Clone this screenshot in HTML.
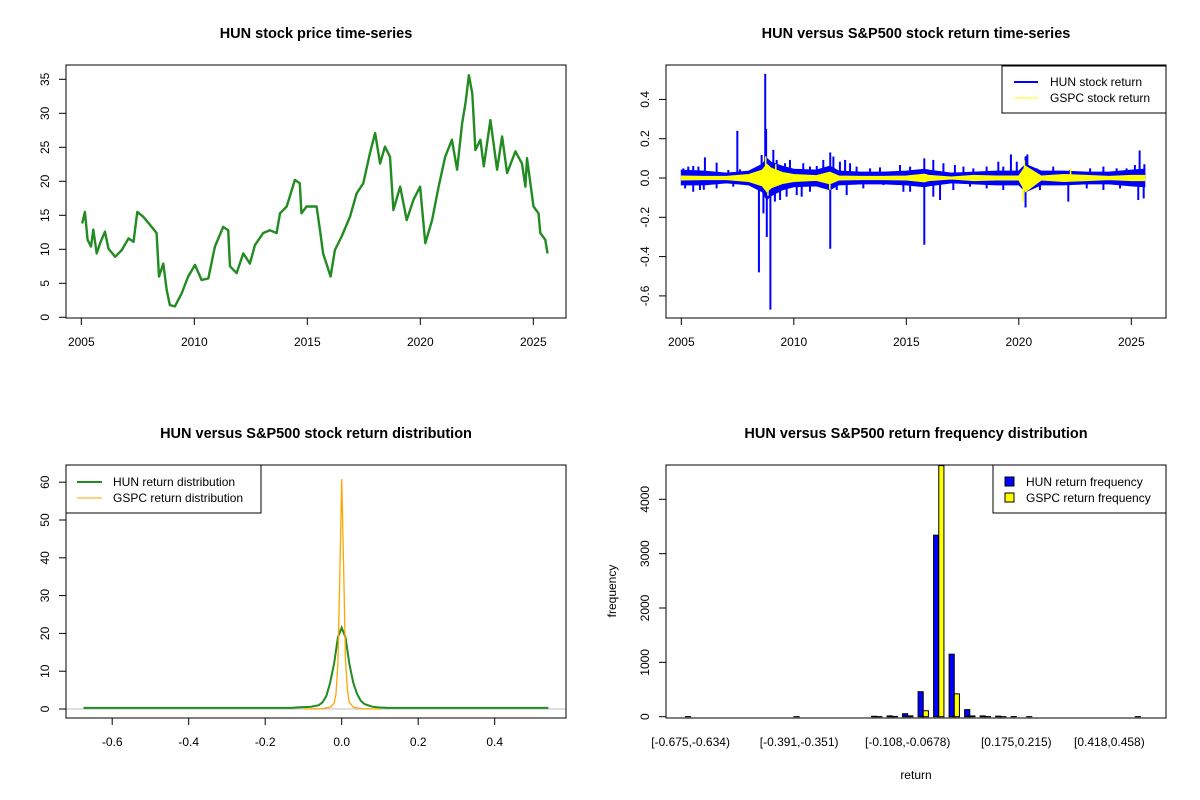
<!DOCTYPE html>
<html><head><meta charset="utf-8"><style>
html,body{margin:0;padding:0;background:#fff;}
svg{display:block;font-family:"Liberation Sans",Arial,sans-serif;}
.t{font-size:12px;fill:#000;}
.title{font-size:14.5px;font-weight:bold;fill:#000;}
</style></head><body>
<svg id="chart" width="1200" height="800" viewBox="0 0 1200 800" xmlns="http://www.w3.org/2000/svg">
<rect x="0" y="0" width="1200" height="800" fill="#fff"/>
</svg>
<script>
// ---- Panel 1: price series ----
const priceYears = [2005.04,2005.16,2005.28,2005.43,2005.53,2005.68,2005.83,2006.05,2006.2,2006.5,2006.79,2007.09,2007.31,2007.48,2007.74,2008.04,2008.33,2008.44,2008.63,2008.78,2008.92,2009.14,2009.44,2009.73,2010.03,2010.32,2010.62,2010.91,2011.28,2011.5,2011.58,2011.87,2012.17,2012.46,2012.68,2013.05,2013.35,2013.64,2013.79,2014.09,2014.45,2014.67,2014.74,2014.97,2015.41,2015.56,2015.7,2016.03,2016.22,2016.52,2016.89,2017.18,2017.48,2017.77,2018.0,2018.22,2018.44,2018.66,2018.81,2019.11,2019.4,2019.7,2019.99,2020.22,2020.52,2020.81,2021.1,2021.4,2021.63,2021.85,2022.0,2022.15,2022.3,2022.44,2022.66,2022.81,2023.1,2023.4,2023.62,2023.84,2024.21,2024.5,2024.65,2024.72,2025.01,2025.23,2025.31,2025.53,2025.63];
const priceValues = [13.8,15.5,11.4,10.4,12.9,9.4,10.9,12.6,10.1,8.9,9.9,11.6,11.1,15.5,14.8,13.6,12.4,6.0,7.9,4.0,1.8,1.6,3.5,6.0,7.7,5.5,5.7,10.4,13.3,12.8,7.5,6.5,9.4,7.9,10.6,12.4,12.8,12.4,15.3,16.3,20.2,19.7,15.3,16.3,16.3,12.8,9.4,6.0,9.9,11.9,14.8,18.2,19.7,24.1,27.1,22.6,25.1,23.6,15.8,19.2,14.3,17.3,19.2,10.9,14.3,19.2,23.6,26.1,21.7,28.5,31.5,35.6,32.9,24.6,26.1,22.2,29.0,21.7,26.6,21.2,24.4,22.6,19.2,23.4,16.3,15.3,12.4,11.4,9.4];
const priceTicksY = [0,5,10,15,20,25,30,35];
const yearTicks = [2005,2010,2015,2020,2025];

// ---- Panel 2: return series ----
const envYears = [2005,2006,2007,2008,2008.6,2008.8,2009,2009.5,2010,2011,2011.6,2012,2013,2014,2015,2015.8,2016,2017,2018,2019,2020,2020.3,2021,2022,2023,2024,2025,2025.6];
const hunHigh = [0.04,0.035,0.025,0.035,0.07,0.1,0.08,0.06,0.045,0.04,0.06,0.035,0.03,0.03,0.035,0.045,0.04,0.025,0.03,0.035,0.035,0.07,0.035,0.035,0.03,0.03,0.04,0.045];
const hunLow = [-0.035,-0.035,-0.025,-0.035,-0.07,-0.11,-0.09,-0.06,-0.045,-0.04,-0.06,-0.035,-0.03,-0.03,-0.035,-0.045,-0.04,-0.025,-0.03,-0.035,-0.035,-0.07,-0.035,-0.035,-0.03,-0.03,-0.04,-0.045];
const gspcHigh = [0.01,0.008,0.008,0.018,0.04,0.07,0.05,0.028,0.018,0.012,0.03,0.01,0.008,0.008,0.01,0.02,0.013,0.005,0.013,0.01,0.01,0.06,0.01,0.018,0.013,0.008,0.013,0.013];
const gspcLow = [-0.01,-0.008,-0.008,-0.018,-0.04,-0.07,-0.05,-0.028,-0.018,-0.012,-0.03,-0.01,-0.008,-0.008,-0.01,-0.02,-0.013,-0.005,-0.013,-0.01,-0.01,-0.07,-0.01,-0.018,-0.013,-0.008,-0.013,-0.013];
const spikeYears = [2006.0,2007.49,2008.45,2008.73,2008.77,2008.8,2008.96,2011.62,2011.62,2015.8,2015.8,2019.65,2020.3,2020.3,2025.37,
 2005.09,2005.31,2005.53,2005.76,2006.05,2006.57,2007.09,2007.61,2008.13,2008.57,2009.09,2009.24,2009.61,2009.83,2010.42,2010.72,2011.02,2011.31,2011.76,2012.05,2012.28,2012.5,2012.79,2013.39,2013.83,2014.72,2015.17,2016.2,2016.65,2017.16,2017.54,2017.98,2018.57,2019.09,2019.31,2019.91,2020.38,2020.8,2021.53,2022.28,2023.17,2023.76,2024.35,2024.79,2025.16,2025.58,
 2005.17,2005.53,2005.83,2006.57,2007.31,2007.91,2008.65,2009.16,2009.39,2009.68,2010.13,2010.35,2010.72,2011.91,2012.35,2013.09,2013.98,2014.87,2015.17,2016.2,2016.5,2017.09,2017.83,2018.57,2019.31,2020.94,2022.2,2023.02,2023.76,2024.5,2025.31,2025.55];
const spikeValues = [-0.06,0.24,-0.48,0.53,0.25,-0.30,-0.67,-0.36,0.13,-0.34,0.10,0.12,0.11,-0.15,0.14,
 0.049,0.058,0.061,0.058,0.105,0.078,0.041,0.044,0.041,0.117,0.143,0.092,0.075,0.092,0.075,0.058,0.061,0.092,0.109,0.083,0.092,0.075,0.058,0.049,0.054,0.066,0.058,0.092,0.075,0.066,0.058,0.049,0.058,0.083,0.058,0.083,0.12,0.049,0.058,0.041,0.049,0.058,0.049,0.049,0.066,0.07,
 -0.053,-0.07,-0.061,-0.053,-0.044,-0.036,-0.18,-0.12,-0.112,-0.095,-0.087,-0.095,-0.07,-0.061,-0.087,-0.053,-0.036,-0.07,-0.07,-0.095,-0.112,-0.061,-0.044,-0.053,-0.061,-0.061,-0.12,-0.053,-0.061,-0.053,-0.112,-0.104];
const gspcSpikeYears = [2008.75,2008.85,2009.2,2011.6,2020.2,2020.25,2022.3];
const gspcSpikeValues = [0.11,-0.09,0.07,-0.06,-0.12,0.09,0.05];
const retTicksY = [-0.6,-0.4,-0.2,0.0,0.2,0.4];
const retTickLabels = ["-0.6","-0.4","-0.2","0.0","0.2","0.4"];

// ---- Panel 3: density ----
const hunDensX = [-0.675,-0.13,-0.12,-0.1,-0.08,-0.06,-0.05,-0.04,-0.03,-0.02,-0.01,0,0.01,0.02,0.03,0.04,0.05,0.06,0.08,0.1,0.12,0.14,0.54];
const hunDensY = [0.3,0.3,0.4,0.5,0.6,1.0,1.8,3.5,7,12,19,21.5,19,12,7,4,2.2,1.3,0.6,0.4,0.3,0.3,0.3];
const gspcDensX = [-0.1,-0.05,-0.03,-0.02,-0.015,-0.01,-0.005,0,0.005,0.01,0.015,0.02,0.03,0.05,0.1];
const gspcDensY = [0,0.1,0.5,1.5,4,12,35,60.8,38,13,5,1.8,0.5,0.1,0];
const densTicksX = [-0.6,-0.4,-0.2,0.0,0.2,0.4];
const densTickLabels = ["-0.6","-0.4","-0.2","0.0","0.2","0.4"];
const densTicksY = [0,10,20,30,40,50,60];

// ---- Panel 4: histogram ----
const binLabels = ["[-0.675,-0.634)","","","","","","","[-0.391,-0.351)","","","","","","","[-0.108,-0.0678)","","","","","","","[0.175,0.215)","","","","","","[0.418,0.458)","",""];
const hunCounts = [1,0,0,0,0,0,0,1,0,0,0,0,8,15,55,460,3340,1150,130,15,10,3,1,0,0,0,0,0,0,1];
const gspcCounts = [0,0,0,0,0,0,0,0,0,0,0,0,2,5,15,110,4620,420,15,3,1,0,0,0,0,0,0,0,0,0];
const freqTicks = [0,1000,2000,3000,4000];

const svg = document.getElementById('chart');
const NS = 'http://www.w3.org/2000/svg';
function mk(tag, attrs, parent){
  const e = document.createElementNS(NS, tag);
  for (const k in attrs) e.setAttribute(k, attrs[k]);
  (parent||svg).appendChild(e);
  return e;
}
function txt(x,y,s,cls,rot,parent){
  const e = mk('text',{x:x,y:y,'class':cls||'t','text-anchor':'middle','dominant-baseline':'central'},parent);
  if (rot) e.setAttribute('transform','rotate(-90 '+x+' '+y+')');
  e.textContent = s;
  return e;
}
function group(name){
  const g = mk('g',{});
  
  
  return g;
}

// ===== Panel 1 =====
(function(){
  const L=66,R=566,T=65,B=318;
  const sx = y => 81.3 + (y-2005)*22.6;
  const sy = v => 317.3 - v*6.8;
  const g = group('price-panel');
  const t = txt(316,34,'HUN stock price time-series','title',false,g);
  
  
  let d='';
  priceYears.forEach((y,i)=>{ d += (i?'L':'M')+sx(y).toFixed(1)+' '+sy(priceValues[i]).toFixed(1); });
  const p = mk('path',{d:d,fill:'none',stroke:'#228B22','stroke-width':2.4,'stroke-linejoin':'round'},g);
  
  
  const box = mk('rect',{x:L,y:T,width:R-L,height:B-T,fill:'none',stroke:'#000','stroke-width':1},g);
  
  
  yearTicks.forEach(yr=>{
    mk('line',{x1:sx(yr),x2:sx(yr),y1:B,y2:B+7,stroke:'#000'},g);
    const e = txt(sx(yr),342,String(yr),'t',false,g);
    
    
  });
  priceTicksY.forEach(v=>{
    mk('line',{x1:L,x2:L-7,y1:sy(v),y2:sy(v),stroke:'#000'},g);
    const e = txt(45,sy(v),String(v),'t',true,g);
    
    
  });
})();

// ===== Panel 2 =====
(function(){
  const L=666,R=1166,T=65,B=318;
  const sx = y => 681.3 + (y-2005)*22.5;
  const sy = v => 178 - v*196.5;
  const g = group('return-panel');
  const t = txt(916,34,'HUN versus S&P500 stock return time-series','title',false,g);
  
  
  function band(hi,lo,col,name){
    let d='';
    envYears.forEach((y,i)=>{ d += (i?'L':'M')+sx(y).toFixed(1)+' '+sy(hi[i]).toFixed(1); });
    for (let i=envYears.length-1;i>=0;i--) d += 'L'+sx(envYears[i]).toFixed(1)+' '+sy(lo[i]).toFixed(1);
    const p = mk('path',{d:d+'Z',fill:col,stroke:col,'stroke-width':1},g);
    
    
  }
  band(hunHigh,hunLow,'#0000FF','hun-return-band');
  spikeYears.forEach((y,i)=>{
    const l = mk('line',{x1:sx(y),x2:sx(y),y1:sy(0),y2:sy(spikeValues[i]),stroke:'#0000FF','stroke-width':2},g);
    
    
  });
  band(gspcHigh,gspcLow,'#FFFF00','gspc-return-band');
  gspcSpikeYears.forEach((y,i)=>{
    const l = mk('line',{x1:sx(y),x2:sx(y),y1:sy(0),y2:sy(gspcSpikeValues[i]),stroke:'#FFFF00','stroke-width':1.5},g);
    
    
  });
  mk('rect',{x:L,y:T,width:R-L,height:B-T,fill:'none',stroke:'#000'},g);
  yearTicks.forEach(yr=>{
    mk('line',{x1:sx(yr),x2:sx(yr),y1:B,y2:B+7,stroke:'#000'},g);
    const e = txt(sx(yr),342,String(yr),'t',false,g);
    
    
  });
  retTicksY.forEach((v,i)=>{
    mk('line',{x1:L,x2:L-7,y1:sy(v),y2:sy(v),stroke:'#000'},g);
    const e = txt(645,sy(v),retTickLabels[i],'t',true,g);
    
    
  });
  const lg = mk('g',{},g);
  
  
  mk('rect',{x:1002,y:66,width:164,height:47,fill:'#fff',stroke:'#000'},lg);
  mk('line',{x1:1014,x2:1038,y1:82,y2:82,stroke:'#0000FF','stroke-width':2},lg);
  mk('line',{x1:1014,x2:1038,y1:98,y2:98,stroke:'#FFFF00','stroke-width':1},lg);
  const a=mk('text',{x:1050,y:86,'class':'t'},lg); a.textContent='HUN stock return';
  const b=mk('text',{x:1050,y:102,'class':'t'},lg); b.textContent='GSPC stock return';
})();

// ===== Panel 3 =====
(function(){
  const L=66,R=566,T=465,B=718;
  const sx = v => 341.7 + v*382.5;
  const sy = v => 709 - v*3.78;
  const g = group('density-panel');
  const t = txt(316,434,'HUN versus S&P500 stock return distribution','title',false,g);
  
  
  const ab = mk('line',{x1:L,x2:R,y1:sy(0),y2:sy(0),stroke:'#bebebe','stroke-width':1},g);
  
  
  let d='';
  hunDensX.forEach((x,i)=>{ d+=(i?'L':'M')+sx(x).toFixed(1)+' '+sy(hunDensY[i]).toFixed(1); });
  const p1 = mk('path',{d:d,fill:'none',stroke:'#228B22','stroke-width':2},g);
  
  
  d='';
  gspcDensX.forEach((x,i)=>{ d+=(i?'L':'M')+sx(x).toFixed(1)+' '+sy(gspcDensY[i]).toFixed(1); });
  const p2 = mk('path',{d:d,fill:'none',stroke:'#FFA500','stroke-width':1.3},g);
  
  
  mk('rect',{x:L,y:T,width:R-L,height:B-T,fill:'none',stroke:'#000'},g);
  densTicksX.forEach((v,i)=>{
    mk('line',{x1:sx(v),x2:sx(v),y1:B,y2:B+7,stroke:'#000'},g);
    const e = txt(sx(v),742,densTickLabels[i],'t',false,g);
    
    
  });
  densTicksY.forEach(v=>{
    mk('line',{x1:L,x2:L-7,y1:sy(v),y2:sy(v),stroke:'#000'},g);
    const e = txt(45,sy(v),String(v),'t',true,g);
    
    
  });
  const lg = mk('g',{},g);
  
  
  mk('rect',{x:66,y:465,width:195,height:48,fill:'#fff',stroke:'#000'},lg);
  mk('line',{x1:77,x2:102,y1:482,y2:482,stroke:'#228B22','stroke-width':2},lg);
  mk('line',{x1:77,x2:102,y1:498,y2:498,stroke:'#FFA500','stroke-width':1},lg);
  const a=mk('text',{x:113,y:486,'class':'t'},lg); a.textContent='HUN return distribution';
  const b=mk('text',{x:113,y:502,'class':'t'},lg); b.textContent='GSPC return distribution';
})();

// ===== Panel 4 =====
(function(){
  const L=666,R=1166,T=465,B=718;
  const unit = 5.17;
  const gx = i => 690.6 + i*3*unit;
  const sy = v => 716.7 - v*0.05435;
  const g = group('histogram-panel');
  const t = txt(916,434,'HUN versus S&P500 return frequency distribution','title',false,g);
  
  
  const cg = mk('defs',{},g);
  const cp = mk('clipPath',{id:'hclip'},cg);
  mk('rect',{x:L,y:T,width:R-L,height:B-T},cp);
  const bars = mk('g',{'clip-path':'url(#hclip)'},g);
  hunCounts.forEach((c,i)=>{
    const y = sy(c);
    const r = mk('rect',{x:gx(i)-unit,y:y,width:unit,height:Math.max(0,sy(0)-y),fill:'#0000FF',stroke:'#000','stroke-width':1},bars);
    
    
  });
  gspcCounts.forEach((c,i)=>{
    const y = sy(c);
    const r = mk('rect',{x:gx(i),y:y,width:unit,height:Math.max(0,sy(0)-y),fill:'#FFFF00',stroke:'#000','stroke-width':1},bars);
    
    
  });
  mk('rect',{x:L,y:T,width:R-L,height:B-T,fill:'none',stroke:'#000'},g);
  binLabels.forEach((s,i)=>{
    if(!s) return;
    const e = txt(gx(i),742,s,'t',false,g);
    
    
  });
  freqTicks.forEach(v=>{
    mk('line',{x1:L,x2:L-7,y1:sy(v),y2:sy(v),stroke:'#000'},g);
    const e = txt(645,sy(v),String(v),'t',true,g);
    
    
  });
  const xl = txt(916,775,'return','t',false,g);
  
  
  const yl = txt(612,591,'frequency','t',true,g);
  
  
  const lg = mk('g',{},g);
  
  
  mk('rect',{x:993,y:465,width:173,height:48,fill:'#fff',stroke:'#000'},lg);
  mk('rect',{x:1005,y:477,width:9,height:9,fill:'#0000FF',stroke:'#000'},lg);
  mk('rect',{x:1005,y:493,width:9,height:9,fill:'#FFFF00',stroke:'#000'},lg);
  const a=mk('text',{x:1026,y:486,'class':'t'},lg); a.textContent='HUN return frequency';
  const b=mk('text',{x:1026,y:502,'class':'t'},lg); b.textContent='GSPC return frequency';
})();
</script>
</body></html>
